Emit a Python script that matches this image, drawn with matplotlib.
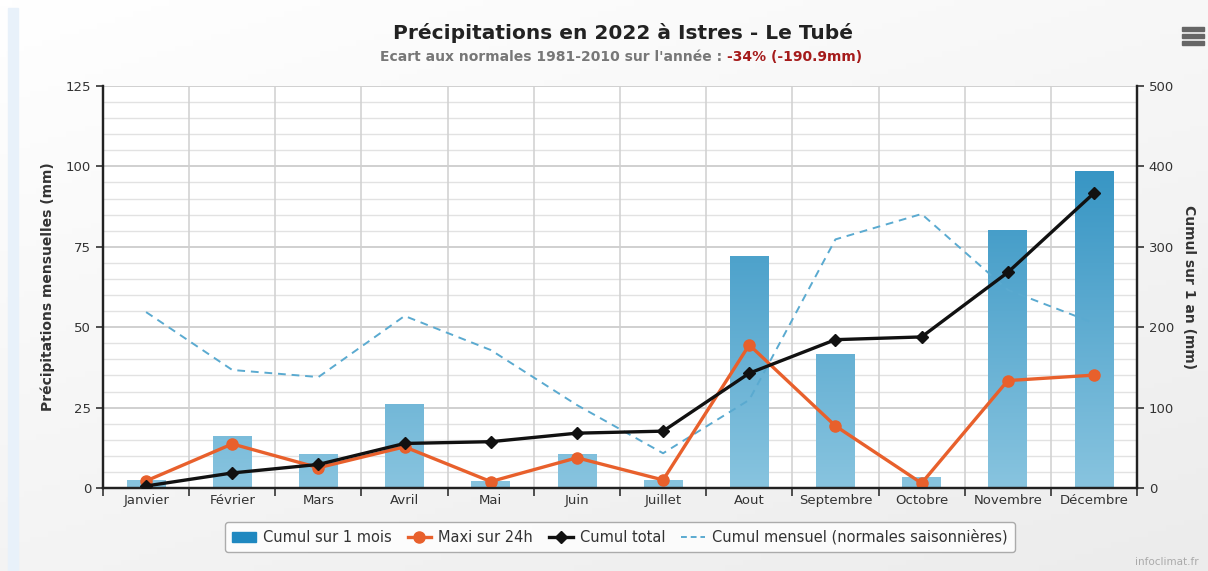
import numpy as np
import matplotlib
matplotlib.use("Agg")
import matplotlib.pyplot as plt
from matplotlib.patches import Rectangle
from matplotlib.lines import Line2D
from matplotlib.colors import LinearSegmentedColormap

plt.rcParams['font.family'] = ['DejaVu Sans']

months = ["Janvier", "Février", "Mars", "Avril", "Mai", "Juin", "Juillet",
          "Aout", "Septembre", "Octobre", "Novembre", "Décembre"]
cumul_mois = [2.5, 16.2, 10.6, 26.1, 2.2, 10.6, 2.5, 72.1, 41.7, 3.4, 80.2, 98.6]
maxi_24h = [2.2, 13.7, 6.3, 12.8, 2.0, 9.4, 2.5, 44.5, 19.3, 1.5, 33.4, 35.1]
cumul_total = [2.5, 18.7, 29.3, 55.4, 57.6, 68.2, 70.7, 142.8, 184.5, 187.9, 268.1, 366.7]
normales = [54.7, 36.7, 34.5, 53.5, 42.9, 25.8, 10.8, 27.4, 77.3, 85.2, 61.6, 51.3]
left_ticks = [0, 25, 50, 75, 100, 125]
right_ticks = [0, 100, 200, 300, 400, 500]

W, H = 1208, 571
fig = plt.figure(figsize=(W / 100, H / 100), dpi=100)

# background gradient
bg = fig.add_axes([0, 0, 1, 1], zorder=-10)
gx = np.linspace(0, 1, 200)
gy = np.linspace(0, 1, 100)
GX, GY = np.meshgrid(gx, gy)
grad = 0.6 * GY + 0.4 * GX
bgcmap = LinearSegmentedColormap.from_list("bg", ["#ffffff", "#ececec"])
bg.imshow(grad, cmap=bgcmap, aspect="auto", extent=[0, 1, 0, 1], origin="upper")
bg.add_patch(Rectangle((8 / W, 0.0), 10 / W, 1 - 8 / H, color="#e8f1fa", transform=bg.transAxes))
bg.set_xlim(0, 1)
bg.set_ylim(0, 1)
bg.axis("off")

ax = fig.add_axes([103 / W, 1 - 488 / H, (1137 - 103) / W, (488 - 86) / H])
ax.set_facecolor("white")
n = len(months)
x = np.arange(n)
ax.set_xlim(-0.5, n - 0.5)
ax.set_ylim(0, 125)

# grid
for v in np.arange(0, 126, 5):
    major = (v % 25 == 0)
    ax.axhline(v, color="#c8c8c8" if major else "#e2e2e2", lw=1.2 if major else 1.0, zorder=0)
for b in np.arange(-0.5, n, 1.0):
    ax.axvline(b, color="#d0d0d0", lw=1.1, zorder=0)

# bars with vertical gradient
barcmap = LinearSegmentedColormap.from_list("bar", ["#88c4df", "#2289bd"])
grad_img = np.linspace(0, 1, 256).reshape(-1, 1)
bars = ax.bar(x, cumul_mois, width=0.45, color="none", zorder=2)
for rect in bars:
    x0 = rect.get_x()
    w = rect.get_width()
    im = ax.imshow(grad_img, cmap=barcmap, aspect="auto", origin="lower",
                   extent=[x0, x0 + w, 0, 125], zorder=2)
    im.set_clip_path(rect)

ax2 = ax.twinx()
ax2.set_ylim(0, 500)
ax2.set_xlim(-0.5, n - 0.5)

ax.plot(x, normales, color="#5aaad0", lw=1.4, ls=(0, (4, 3)), zorder=3)
ax.plot(x, maxi_24h, color="#e8602c", lw=2.4, marker="o", ms=8, zorder=4)
ax2.plot(x, cumul_total, color="#111111", lw=2.4, marker="D", ms=6.5, zorder=5)

# axes styling
ax.set_xticks(np.arange(-0.5, n, 1.0))
ax.set_xticklabels([])
ax.set_xticks(x, minor=True)
ax.set_xticklabels(months, minor=True, fontsize=9.5, color="#333333")
ax.tick_params(axis="x", which="major", length=6, width=1.2, color="#333333")
ax.tick_params(axis="x", which="minor", length=0, pad=4)
ax.set_yticks(left_ticks)
ax.tick_params(axis="y", length=5, width=1.2, labelsize=9.5, labelcolor="#333333", color="#333333")
ax2.set_yticks(right_ticks)
ax2.tick_params(axis="y", length=5, width=1.2, labelsize=9.5, labelcolor="#333333", color="#333333")

for a in (ax, ax2):
    a.spines["top"].set_visible(False)
    for s in ("left", "right", "bottom"):
        a.spines[s].set_color("#222222")
        a.spines[s].set_linewidth(1.6)

ax.set_ylabel("Précipitations mensuelles (mm)", fontsize=10, fontweight="bold",
              color="#333333", labelpad=8)
ax2.set_ylabel("Cumul sur 1 an (mm)", fontsize=10, fontweight="bold",
               color="#333333", rotation=270, labelpad=16)

# title and subtitle
fig.text(623 / W, 1 - 33 / H, "Précipitations en 2022 à Istres - Le Tubé", ha="center",
         va="center", fontsize=14.5, fontweight="bold", color="#222222")
part1 = "Ecart aux normales 1981-2010 sur l'année : "
part2 = "-34% (-190.9mm)"
fig.canvas.draw()
r = fig.canvas.get_renderer()
t1 = fig.text(0, 1 - 57 / H, part1, fontsize=10, fontweight="bold", color="#777777", va="center")
t2 = fig.text(0, 1 - 57 / H, part2, fontsize=10, fontweight="bold", color="#a51b1b", va="center")
w1 = t1.get_window_extent(r).width
w2 = t2.get_window_extent(r).width
start = (621 - (w1 + w2) / 2) / W
t1.set_x(start)
t2.set_x(start + w1 / W)

# legend
handles = [
    Rectangle((0, 0), 1, 1, color="#1f88c0"),
    Line2D([], [], color="#e8602c", lw=2.4, marker="o", ms=8),
    Line2D([], [], color="#111111", lw=2.4, marker="D", ms=6),
    Line2D([], [], color="#5aaad0", lw=1.4, ls=(0, (3, 2))),
]
labels = ["Cumul sur 1 mois", "Maxi sur 24h", "Cumul total", "Cumul mensuel (normales saisonnières)"]
leg = fig.legend(handles, labels, loc="center", bbox_to_anchor=(620 / W, 1 - 537 / H), ncol=4,
                 fontsize=10.5, frameon=True, handlelength=1.6, handletextpad=0.5,
                 columnspacing=1.1, borderpad=0.5, fancybox=True)
leg.get_frame().set_edgecolor("#999999")
leg.get_frame().set_linewidth(1.0)
leg.get_frame().set_facecolor("white")
for t in leg.get_texts():
    t.set_color("#333333")

# menu icon
for yy in (29, 36, 43):
    fig.patches.append(Rectangle((1182 / W, 1 - (yy + 2) / H), 22 / W, 4 / H,
                                 transform=fig.transFigure, color="#666666"))

fig.text(1135 / W, 1 - 562 / H, "infoclimat.fr", fontsize=7.5, color="#aaaaaa",
         va="center", ha="left")

fig.savefig("out.png", dpi=100)
